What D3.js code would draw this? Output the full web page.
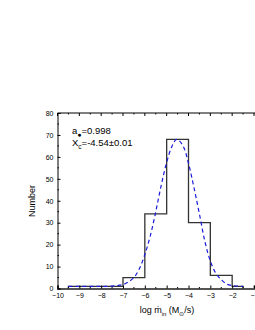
<!DOCTYPE html>
<html><head><meta charset="utf-8">
<script src="https://cdn.jsdelivr.net/npm/d3@7"></script>
<style>body{margin:0;background:#fff}svg{display:block}text{font-family:"Liberation Sans",Arial,sans-serif}</style>
</head><body><svg id="c" width="255" height="330"></svg>
<script>
const binEdges = [-9.5, -7, -6, -5, -4, -3, -2, -1.5];
const binCounts = [1, 5, 34, 68, 30, 6, 1];
const fitX = [-9.5,-9,-8.5,-8,-7.5,-7,-6.75,-6.5,-6.25,-6,-5.75,-5.5,-5.25,-5,-4.75,-4.54,-4.25,-4,-3.75,-3.5,-3.25,-3,-2.75,-2.5,-2.25,-2,-1.75,-1.5];
const fitY = [1,1,1,1,1.1,1.8,3,5,9,15.5,24,35,47,57.5,65,68,65,57,46,34,21.5,12.5,7,4,2,1.3,1.1,1];
const xTicks = [-10,-9,-8,-7,-6,-5,-4,-3,-2,-1];
const yTicks = [0,10,20,30,40,50,60,70,80];

const svg = d3.select("#c");
const x = d3.scaleLinear().domain([-10,-1]).range([57.5,254]);
const y = d3.scaleLinear().domain([0,80]).range([288.5,113]);

// frame
svg.append("line").attr("x1",x(-10)).attr("x2",262).attr("y1",y(80)).attr("y2",y(80)).attr("stroke","#000").attr("stroke-width",1);

// histogram step outline
const pts = [[binEdges[0],0]];
binCounts.forEach((c,i)=>{pts.push([binEdges[i],c]);pts.push([binEdges[i+1],c]);});
pts.push([binEdges[binEdges.length-1],0]);
svg.append("path").attr("d",d3.line().x(d=>x(d[0])).y(d=>y(d[1]))(pts))
  .attr("fill","none").attr("stroke","#333").attr("stroke-width",1.3);

// fit curve
svg.append("path").attr("d",d3.line().curve(d3.curveCatmullRom).x((d,i)=>x(fitX[i])).y(d=>y(d))(fitY))
  .attr("fill","none").attr("stroke","#1a1adb").attr("stroke-width",1.2).attr("stroke-dasharray","4,3");

// axes
const xAxis = svg.append("g").attr("transform",`translate(0,${y(0)})`)
  .call(d3.axisBottom(x).tickValues(xTicks).tickSize(-3).tickPadding(5).tickFormat(d3.format("d")));
const yAxis = svg.append("g").attr("transform",`translate(${x(-10)},0)`)
  .call(d3.axisLeft(y).tickValues(yTicks).tickSize(-3).tickPadding(4));
[xAxis,yAxis].forEach(g=>{g.select(".domain").attr("stroke","#000");g.selectAll("text").attr("font-size",7).attr("fill","#000").attr("font-family","Liberation Sans, Arial, sans-serif");});
xAxis.select(".domain").attr("stroke","#555").attr("stroke-width",2);
// minor ticks
const xMinor = xTicks.slice(0,-1).map(v=>v+0.5);
const yMinor = yTicks.slice(0,-1).map(v=>v+5);
svg.append("g").selectAll("line").data(xMinor).join("line").attr("x1",d=>x(d)).attr("x2",d=>x(d)).attr("y1",y(0)).attr("y2",y(0)-1.5).attr("stroke","#000");
svg.append("g").selectAll("line").data(xTicks).join("line").attr("x1",d=>x(d)).attr("x2",d=>x(d)).attr("y1",y(80)).attr("y2",y(80)+3).attr("stroke","#000");
svg.append("g").selectAll("line").data(xMinor).join("line").attr("x1",d=>x(d)).attr("x2",d=>x(d)).attr("y1",y(80)).attr("y2",y(80)+1.5).attr("stroke","#000");
svg.append("g").selectAll("line").data(yMinor).join("line").attr("x1",x(-10)).attr("x2",x(-10)+1.5).attr("y1",d=>y(d)).attr("y2",d=>y(d)).attr("stroke","#000");

// annotations
const t1 = svg.append("text").attr("x",72).attr("y",134).attr("font-size",9.5);
t1.append("tspan").text("a");
t1.append("tspan").attr("dy",2.5).attr("font-size",7).text("\u25CF");
t1.append("tspan").attr("dy",-2.5).text("=0.998");
const t2 = svg.append("text").attr("x",72).attr("y",146).attr("font-size",9.5);
t2.append("tspan").text("X");
t2.append("tspan").attr("dy",2.5).attr("font-size",6.5).text("c");
t2.append("tspan").attr("dy",-2.5).text("=-4.54\u00B10.01");

// axis titles
svg.append("text").attr("transform","translate(35,201) rotate(-90)").attr("text-anchor","middle").attr("font-size",9).text("Number");
const xt = svg.append("text").attr("x",167).attr("y",313).attr("text-anchor","middle").attr("font-size",9);
xt.append("tspan").text("log m\u0307");
xt.append("tspan").attr("dy",2.5).attr("font-size",6).text("in");
xt.append("tspan").attr("dy",-2.5).text(" (M");
xt.append("tspan").attr("dy",2.5).attr("font-size",6).text("\u2299");
xt.append("tspan").attr("dy",-2.5).text("/s)");
</script></body></html>
